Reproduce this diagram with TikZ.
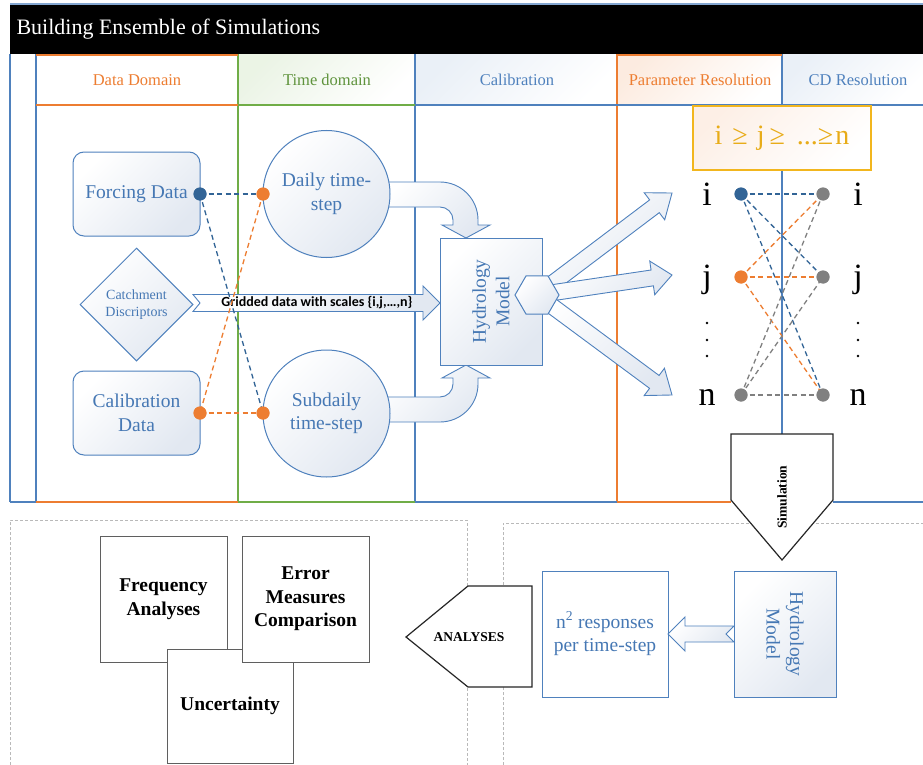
\documentclass[tikz,border=0pt]{standalone}
\usepackage{fontspec}
\setmainfont{Liberation Serif}
\newfontfamily\calibfont{Carlito}
\usetikzlibrary{shapes.geometric}
\definecolor{cblue}{RGB}{79,129,189}
\definecolor{cbluet}{RGB}{70,120,180}
\definecolor{cdot}{RGB}{50,100,150}
\definecolor{corange}{RGB}{237,125,49}
\definecolor{cgreen}{RGB}{112,173,71}
\definecolor{cgold}{RGB}{242,182,30}
\definecolor{cgoldt}{RGB}{232,172,24}
\definecolor{cgray}{RGB}{128,128,128}
\definecolor{cfill}{RGB}{226,232,241}
\definecolor{cpanel}{RGB}{185,185,185}
\definecolor{cbox}{RGB}{95,95,95}
\newcommand{\FszT}{\fontsize{22}{26}\selectfont}
\newcommand{\FszH}{\fontsize{16.5}{19}\selectfont}
\newcommand{\FszM}{\fontsize{19.5}{23.5}\selectfont}
\newcommand{\FszS}{\fontsize{14}{17}\selectfont}
\newcommand{\FszL}{\fontsize{34}{40}\selectfont}
\newcommand{\FszG}{\fontsize{28}{32}\selectfont}
\newcommand{\FszSb}{\fontsize{13.5}{16}\selectfont\bfseries}
\newcommand{\FszB}{\fontsize{19.5}{23.5}\selectfont\bfseries}
\begin{document}
\begin{tikzpicture}[x=1pt,y=-1pt]
\tikzset{
  lane/.style={draw=#1, line width=1.2pt},
  gbox/.style={draw=cblue, line width=1pt, top color=white, bottom color=cfill, shading angle=45, inner sep=0pt, text=cbluet, align=center},
  blockarrow/.style={draw=cblue, line width=0.9pt, top color=white, bottom color=cfill, shading angle=45, line join=miter},
  dotnode/.style={circle, fill=#1, inner sep=0pt, minimum size=13pt},
  dl/.style={draw=#1, dash pattern=on 5pt off 3.5pt, line width=1.3pt},
  hdr/.style={font=\FszH, text=#1},
  blackbox/.style={draw=cbox, line width=1pt, fill=white, minimum width=127pt, minimum height=126pt, inner sep=0pt, align=center, font=\FszB},
  pent/.style={draw=black!85, line width=1.2pt, fill=white, line join=miter},
  letter/.style={anchor=base, font=\FszL},
  panel/.style={draw=cpanel, line width=0.8pt, dash pattern=on 3pt off 2pt}
}
\useasboundingbox (0,0) rectangle (923,765);
\fill[white] (0,0) rectangle (923,765);
% header tints
\shade[top color=cgreen!14, bottom color=white, shading angle=45] (238,54) rectangle (415,105);
\shade[top color=cblue!12, bottom color=white, shading angle=45] (415,54) rectangle (617,105);
\shade[top color=corange!15, bottom color=white, shading angle=45] (617,54) rectangle (782,105);
\shade[top color=cblue!12, bottom color=white, shading angle=45] (782,54) rectangle (923,105);
% title bar
\draw[cblue!70, line width=1.2pt] (10,4) -- (923,4);
\fill[black] (10,5) rectangle (923,54);
\node[anchor=west, text=white, font=\FszT] (title) at (13,29) {Building Ensemble of Simulations};
% lanes
\draw[lane=cblue] (10,54) -- (10,502);
\draw[lane=cblue] (36,54) -- (36,502);
\draw[lane=cgreen] (238,54) -- (238,502);
\draw[lane=cblue] (415,54) -- (415,502);
\draw[lane=corange] (617,54) -- (617,502);
\draw[lane=cblue] (782,54) -- (782,106);
\draw[lane=cblue] (782,170) -- (782,434);
\draw[lane=corange] (36,55) -- (238,55);
\draw[lane=corange] (617,55) -- (782,55);
\draw[lane=corange] (36,105) -- (238,105);
\draw[lane=cgreen] (238,105) -- (415,105);
\draw[lane=cblue] (415,105) -- (923,105);
\draw[lane=cblue] (10,502) -- (36,502);
\draw[lane=corange] (36,502) -- (238,502);
\draw[lane=cgreen] (238,502) -- (415,502);
\draw[lane=cblue] (415,502) -- (617,502);
\draw[lane=corange] (617,502) -- (731,502);
\draw[lane=cblue] (833,502) -- (923,502);
% headers
\node[hdr=corange] (h1) at (137,80) {Data Domain};
\node[hdr=cgreen!85!black] (h2) at (327,80) {Time domain};
\node[hdr=cblue] (h3) at (517,80) {Calibration};
\node[hdr=corange] (h4) at (700,80) {Parameter Resolution};
\node[hdr=cblue] (h5) at (858,80) {CD Resolution};
% data domain nodes
\node[gbox, rounded corners=11pt, minimum width=127pt, minimum height=84pt, font=\FszM] (forcing) at (136.5,194) {Forcing Data};
\node[gbox, diamond, minimum width=113pt, minimum height=113pt, font=\FszS] (catch) at (136.5,304.5) {Catchment\\Discriptors};
\node[gbox, rounded corners=11pt, minimum width=127pt, minimum height=84pt, font=\FszM] (calib) at (136.5,413) {Calibration\\Data};
% U-turn arrows
\draw[blockarrow] (375,182) -- (440,182) .. controls (461,182) and (478,199) .. (478,220) -- (478,225) -- (490,225) -- (466,238) -- (442,225) -- (453,225) -- (453,220) .. controls (453,212.8) and (447.2,207) .. (440,207) -- (375,207) -- cycle;
\draw[blockarrow] (375,422) -- (440,422) .. controls (461,422) and (478,405) .. (478,384) -- (478,378) -- (490,378) -- (466,365) -- (442,378) -- (453,378) -- (453,384) .. controls (453,391.2) and (447.2,397) .. (440,397) -- (375,397) -- cycle;
% time domain circles
\node[gbox, circle, minimum size=127pt, font=\FszM] (daily) at (326.5,194) {Daily time-\\step};
\node[gbox, circle, minimum size=127pt, font=\FszM] (subd) at (326.5,413.5) {Subdaily\\time-step};
% hydrology model
\node[gbox, minimum width=102pt, minimum height=127pt] (hydro) at (491,301.5) {};
\node[rotate=90, text=cbluet, font=\FszM, align=center] (hydrot) at (hydro.center) {Hydrology\\Model};
% gridded arrow
\draw[blockarrow] (193,294.5) -- (423,294.5) -- (423,286) -- (440,303) -- (423,320) -- (423,311.5) -- (193,311.5) -- (200,303) -- cycle;
\node[font=\calibfont\bfseries\fontsize{14}{16}\selectfont] (grid) at (317,303) {Gridded data with scales \{i,j,…,n\}};
% fan arrows
\begin{scope}[shift={(537,295)},rotate=37.07]
\draw[blockarrow] (0,-8) -- (147.2,-8) -- (147.2,-17) -- (169.2,0) -- (147.2,17) -- (147.2,8) -- (0,8) -- (7,0) -- cycle;
\end{scope}
\begin{scope}[shift={(537,295)},rotate=8.43]
\draw[blockarrow] (0,-8) -- (116.5,-8) -- (116.5,-17) -- (136.5,0) -- (116.5,17) -- (116.5,8) -- (0,8) -- (7,0) -- cycle;
\end{scope}
\begin{scope}[shift={(537,295)},rotate=-36.53]
\draw[blockarrow] (0,-8) -- (146,-8) -- (146,-17) -- (168,0) -- (146,17) -- (146,8) -- (0,8) -- (7,0) -- cycle;
\end{scope}
\node[gbox, regular polygon, regular polygon sides=6, minimum size=44pt] (hex) at (537,295) {};
% order box
\node[draw=cgold, line width=1.2pt, top color=corange!12, bottom color=white, shading angle=45, minimum width=178pt, minimum height=64pt, inner sep=0pt, text=cgoldt, font=\FszG] (order) at (782,138) {i\hspace{10pt}≥\hspace{9pt}j\hspace{5pt}≥\hspace{12pt}...≥\hspace{2pt}n};
% letters
\node[letter] (li) at (707,205) {i};
\node[letter] (lj) at (707,287) {j};
\node[letter] (ln) at (707,405) {n};
\node[letter] (ri) at (858,205) {i};
\node[letter] (rj) at (858,287) {j};
\node[letter] (rn) at (858,405) {n};
\foreach \yy in {323,340,356} {
  \fill (707,\yy) circle[radius=1.4pt];
  \fill (858,\yy) circle[radius=1.4pt];
}
% dots
\node[dotnode=cdot] (dF) at (200,194) {};
\node[dotnode=corange] (dD) at (263,194) {};
\node[dotnode=corange] (dC) at (200,413) {};
\node[dotnode=corange] (dS) at (263,413) {};
\node[dotnode=cdot] (dLi) at (741,194) {};
\node[dotnode=corange] (dLj) at (741,277) {};
\node[dotnode=cgray] (dLn) at (741,395) {};
\node[dotnode=cgray] (dRi) at (823,194) {};
\node[dotnode=cgray] (dRj) at (823,277) {};
\node[dotnode=cgray] (dRn) at (823,395) {};
% dashed links
\draw[dl=cdot] (dF.center) -- (dD.center);
\draw[dl=cdot] (dF.center) -- (dS.center);
\draw[dl=corange] (dD.center) -- (dC.center);
\draw[dl=corange] (dC.center) -- (dS.center);
\draw[dl=cdot] (dLi.center) -- (dRi.center);
\draw[dl=cdot] (dLi.center) -- (dRj.center);
\draw[dl=cdot] (dLi.center) -- (dRn.center);
\draw[dl=corange] (dLj.center) -- (dRi.center);
\draw[dl=corange] (dLj.center) -- (dRj.center);
\draw[dl=corange] (dLj.center) -- (dRn.center);
\draw[dl=cgray] (dLn.center) -- (dRi.center);
\draw[dl=cgray] (dLn.center) -- (dRj.center);
\draw[dl=cgray, line width=1.8pt] (dLn.center) -- (dRn.center);
% redraw dots on top
\foreach \n/\c in {dF/cdot,dD/corange,dC/corange,dS/corange,dLi/cdot,dLj/corange,dLn/cgray,dRi/cgray,dRj/cgray,dRn/cgray} {
  \fill[\c] (\n.center) circle[radius=6.5pt];
}
% lower panels
\draw[panel] (10,765) -- (10,520) -- (467,520) -- (467,765);
\draw[panel] (503,765) -- (503,523) -- (923,523);
% simulation pentagon
\draw[pent] (731,434) -- (833,434) -- (833,500) -- (782,560) -- (731,500) -- cycle;
\node[rotate=90, font=\FszSb] (simt) at (782,497) {Simulation};
% analyses pentagon
\draw[pent] (406,637) -- (468,586) -- (532,586) -- (532,687) -- (468,687) -- cycle;
\node[font=\FszSb] (anat) at (469,637) {ANALYSES};
% responses and model
\node[draw=cblue, line width=1pt, fill=white, minimum width=126pt, minimum height=126pt, inner sep=0pt, text=cbluet, font=\FszM, align=center] (resp) at (605,634) {n\textsuperscript{2} responses\\per time-step};
\node[gbox, minimum width=102pt, minimum height=126pt] (hydro2) at (785,634) {};
\node[rotate=-90, text=cbluet, font=\FszM, align=center] (hydro2t) at (hydro2.center) {Hydrology\\Model};
\draw[blockarrow] (734,626) -- (685,626) -- (685,617) -- (668,634) -- (685,651) -- (685,642) -- (734,642) -- (726,634) -- cycle;
% analysis boxes
\node[blackbox] (freq) at (163.5,599) {Frequency\\Analyses};
\node[blackbox, minimum width=126pt, minimum height=114pt] (unc) at (230,706) {Uncertainty};
\node[blackbox] (err) at (305.5,599) {Error\\Measures\\Comparison};
\end{tikzpicture}
\end{document}
